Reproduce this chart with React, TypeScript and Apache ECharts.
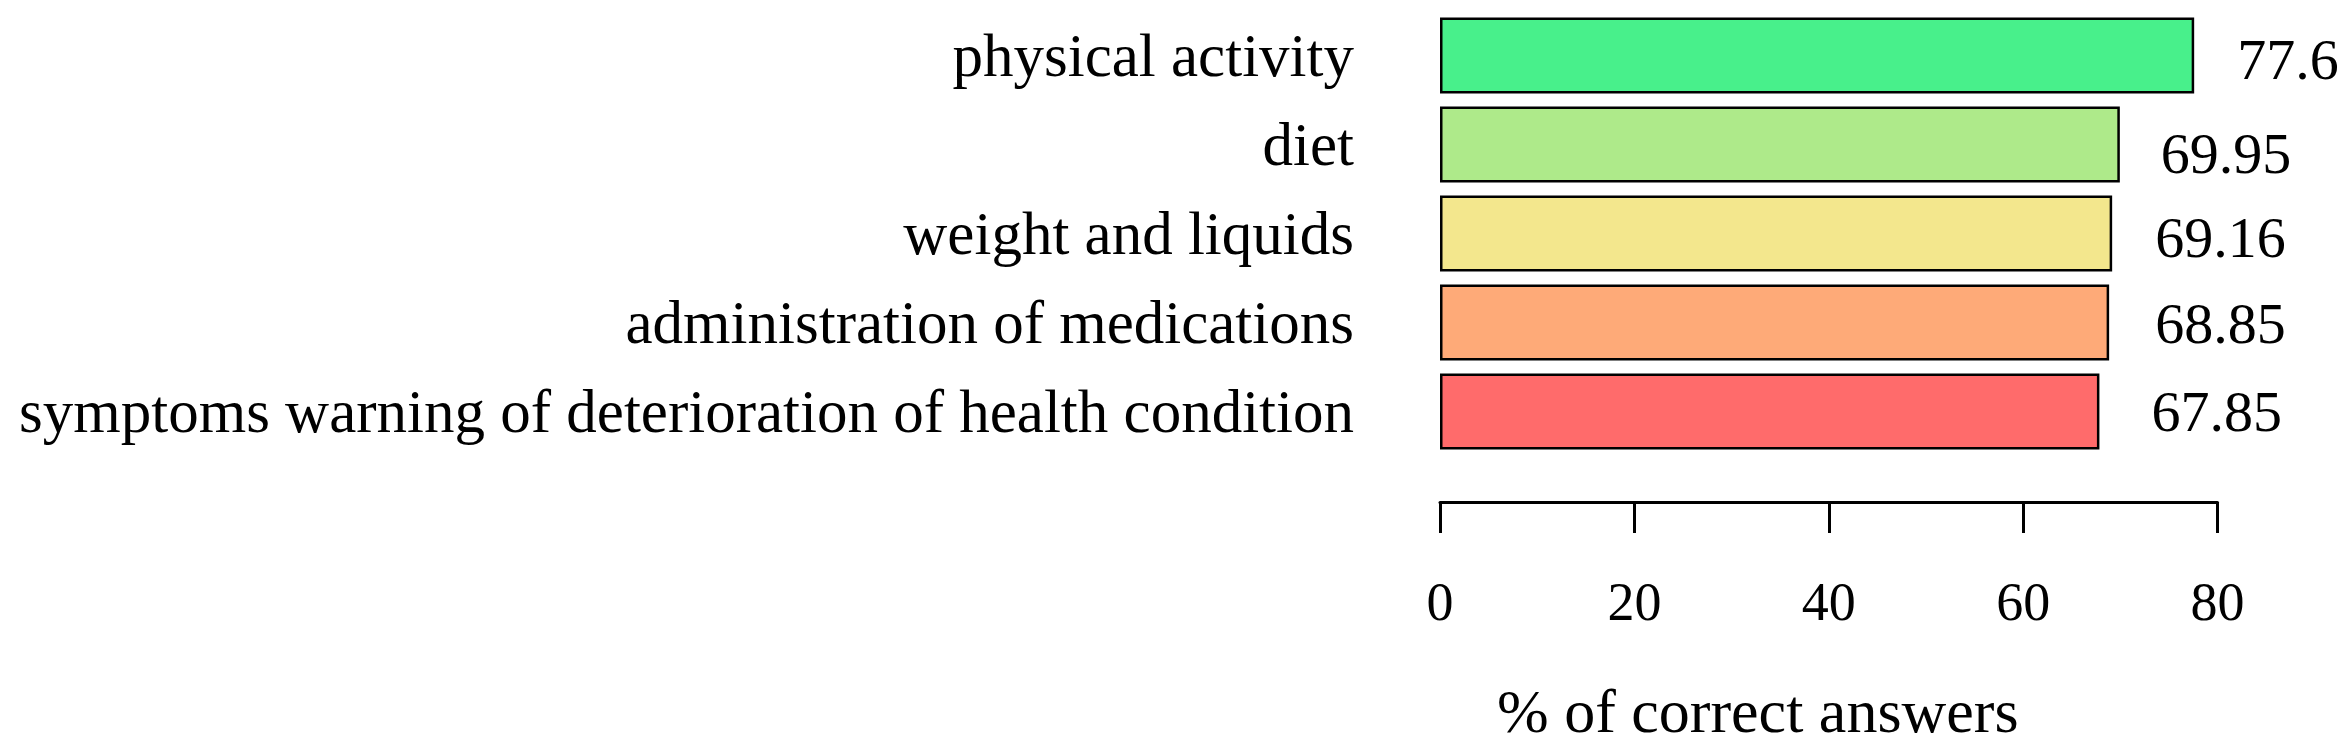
import React, { useEffect, useRef } from "react";
import * as echarts from "echarts";

const categories = [
  "physical activity",
  "diet",
  "weight and liquids",
  "administration of medications",
  "symptoms warning of deterioration of health condition",
];
const values = [77.6, 69.95, 69.16, 68.85, 67.85];
const valueLabels = ["77.6", "69.95", "69.16", "68.85", "67.85"];
const barColors = ["#48F08B", "#AEEA8A", "#F3E78D", "#FEAA78", "#FF6B6B"];
const xTicks = [0, 20, 40, 60, 80];
const axisTitle = "% of correct answers";

const FONT = "'Liberation Serif', 'Times New Roman', serif";

export default function App() {
  const ref = useRef<HTMLDivElement>(null);
  useEffect(() => {
    if (!ref.current) return;
    const chart = echarts.init(ref.current, null, { renderer: "svg" });
    const labelDistance = [43, 41, 43, 46, 52];
    const labelOffsetY = [4, 9, 4, 1, 0];
    chart.setOption({
      animation: false,
      backgroundColor: "#ffffff",
      title: {
        text: axisTitle,
        left: 1497,
        top: 680,
        padding: 0,
        textStyle: { fontSize: 62, fontWeight: "normal", fontFamily: FONT, color: "#000" },
      },
      grid: { left: 1440, right: 133.5, top: 11, bottom: 294, containLabel: false },
      xAxis: {
        type: "value",
        min: xTicks[0],
        max: xTicks[xTicks.length - 1],
        interval: 20,
        offset: 46,
        axisLine: { show: true, lineStyle: { color: "#000", width: 3 } },
        axisTick: { show: true, length: 31, lineStyle: { color: "#000", width: 3 } },
        splitLine: { show: false },
        axisLabel: { fontSize: 54, fontFamily: FONT, color: "#000", margin: 73 },
      },
      yAxis: {
        type: "category",
        inverse: true,
        data: categories,
        axisLine: { show: false },
        axisTick: { show: false },
        axisLabel: { fontSize: 61, fontFamily: FONT, color: "#000", margin: 86 },
      },
      series: [
        {
          type: "bar",
          barWidth: 76,
          data: values.map((v, i) => ({
            value: v,
            itemStyle: { color: barColors[i], borderColor: "#000", borderWidth: 2.5 },
            label: {
              show: true,
              position: "right",
              distance: labelDistance[i],
              offset: [0, labelOffsetY[i]],
              formatter: valueLabels[i],
              fontSize: 58,
              fontFamily: FONT,
              color: "#000",
            },
          })),
        },
      ],
    });
    return () => chart.dispose();
  }, []);
  return (
    <div
      ref={ref}
      style={{ position: "fixed", left: 0, top: 0, width: 2351, height: 750 }}
    />
  );
}
